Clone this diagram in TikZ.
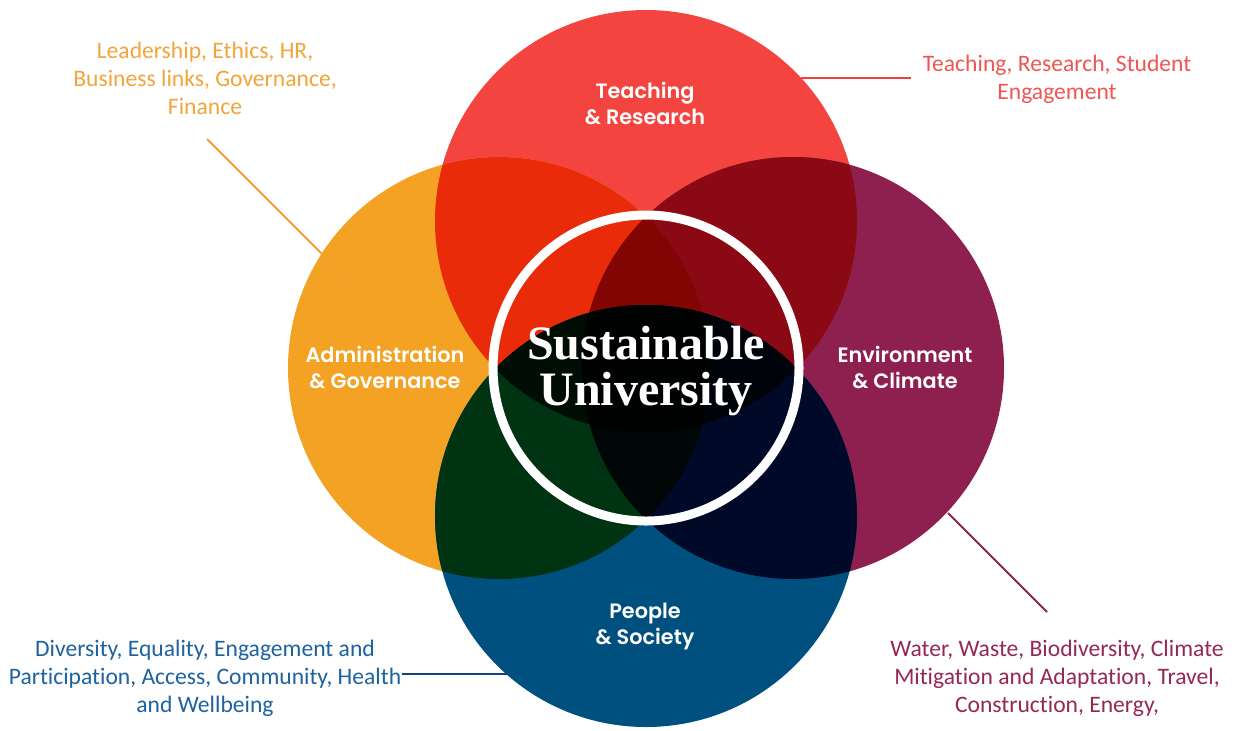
\documentclass[tikz,border=0pt]{standalone}
\usepackage{fontspec}
\setmainfont{Carlito}[Ligatures={NoCommon}]
\newfontfamily\popfont{Poppins}[BoldFont={Poppins SemiBold}]
\newfontfamily\titlefont{Liberation Serif}
\definecolor{cRed}{RGB}{244,68,63}
\definecolor{cOra}{RGB}{244,162,35}
\definecolor{cPur}{RGB}{142,32,80}
\definecolor{cBlu}{RGB}{0,80,127}
\definecolor{cRO}{RGB}{233,43,9}
\definecolor{cRP}{RGB}{138,9,20}
\definecolor{cRB}{RGB}{0,21,31}
\definecolor{cOP}{RGB}{136,20,11}
\definecolor{cOB}{RGB}{0,51,17}
\definecolor{cPB}{RGB}{0,10,40}
\definecolor{cROP}{RGB}{130,5,3}
\definecolor{cROB}{RGB}{0,13,4}
\definecolor{cRPB}{RGB}{0,3,10}
\definecolor{cOPB}{RGB}{0,6,5}
\definecolor{cROPB}{RGB}{0,2,1}
\definecolor{tOra}{RGB}{245,164,58}
\definecolor{tRed}{RGB}{241,85,83}
\definecolor{tBlu}{RGB}{30,98,160}
\definecolor{tPur}{RGB}{150,40,85}
\definecolor{lOra}{RGB}{243,160,50}
\definecolor{lRed}{RGB}{240,62,60}
\definecolor{lBlu}{RGB}{15,70,120}
\definecolor{lPur}{RGB}{145,35,80}
\def\circr{105.5pt}
\tikzset{
  lbl/.style={font=\fontsize{11.8}{14}\selectfont, align=center, inner sep=0pt},
  ttl/.style={font=\popfont\bfseries\fontsize{10.4}{13}\selectfont, text=white, align=center},
  conn/.style={line width=1pt},
  ring/.style={white, line width=4.5pt}
}
\begin{document}
\begin{tikzpicture}[x=0.5pt,y=-0.5pt]
\fill[white] (0,0) rectangle (1241,730);
\useasboundingbox (0,0) rectangle (1241,730);
\coordinate (cT) at (646,221);
\coordinate (cL) at (499,368);
\coordinate (cR) at (793,368);
\coordinate (cB) at (646,516);
% base circles
\fill[cRed] (cT) circle[radius=\circr];
\fill[cOra] (cL) circle[radius=\circr];
\fill[cPur] (cR) circle[radius=\circr];
\fill[cBlu] (cB) circle[radius=\circr];
% pairs
\begin{scope}\clip (cT) circle[radius=\circr]; \fill[cRO] (cL) circle[radius=\circr];\end{scope}
\begin{scope}\clip (cT) circle[radius=\circr]; \fill[cRP] (cR) circle[radius=\circr];\end{scope}
\begin{scope}\clip (cT) circle[radius=\circr]; \fill[cRB] (cB) circle[radius=\circr];\end{scope}
\begin{scope}\clip (cL) circle[radius=\circr]; \fill[cOP] (cR) circle[radius=\circr];\end{scope}
\begin{scope}\clip (cL) circle[radius=\circr]; \fill[cOB] (cB) circle[radius=\circr];\end{scope}
\begin{scope}\clip (cR) circle[radius=\circr]; \fill[cPB] (cB) circle[radius=\circr];\end{scope}
% triples
\begin{scope}\clip (cT) circle[radius=\circr]; \clip (cL) circle[radius=\circr]; \fill[cROP] (cR) circle[radius=\circr];\end{scope}
\begin{scope}\clip (cT) circle[radius=\circr]; \clip (cL) circle[radius=\circr]; \fill[cROB] (cB) circle[radius=\circr];\end{scope}
\begin{scope}\clip (cT) circle[radius=\circr]; \clip (cR) circle[radius=\circr]; \fill[cRPB] (cB) circle[radius=\circr];\end{scope}
\begin{scope}\clip (cL) circle[radius=\circr]; \clip (cR) circle[radius=\circr]; \fill[cOPB] (cB) circle[radius=\circr];\end{scope}
% all four
\begin{scope}\clip (cT) circle[radius=\circr]; \clip (cL) circle[radius=\circr]; \clip (cR) circle[radius=\circr]; \fill[cROPB] (cB) circle[radius=\circr];\end{scope}
% central ring
\draw[ring] (646,368) circle[radius=76.5pt];
\node[font=\titlefont\bfseries\fontsize{24}{23}\selectfont, text=white, align=center] (center) at (646,371) {Sustainable\\University};
% circle titles
\node[ttl] (tteach) at (645,103) {Teaching\\\& Research};
\node[ttl] (tadmin) at (385,367) {Administration\\\& Governance};
\node[ttl] (tenv) at (905,367) {Environment\\\& Climate};
\node[ttl] (tpeople) at (645,627) {People\\\& Society};
% outer labels
\node[lbl, text=tOra] (lora) at (205,78) {Leadership, Ethics, HR,\\Business links, Governance,\\Finance};
\node[lbl, text=tRed] (lred) at (1057,79) {Teaching, Research, Student\\Engagement};
\node[lbl, text=tBlu] (lblu) at (205,678) {Diversity, Equality, Engagement and\\Participation, Access, Community, Health\\and Wellbeing};
\node[lbl, text=tPur] (lpur) at (1057,678) {Water, Waste, Biodiversity, Climate\\Mitigation and Adaptation, Travel,\\Construction, Energy,};
% connectors
\coordinate (oraA) at (207,139);
\coordinate (oraB) at (355,287);
\coordinate (redA) at (801,78);
\coordinate (redB) at (911,78);
\coordinate (bluA) at (lblu.east |- 0,674);
\coordinate (bluB) at (508,674);
\coordinate (purA) at (948,513);
\coordinate (purB) at (1047,612);
\draw[conn, lOra] (oraA) -- (oraB);
\draw[conn, lRed] (redA) -- (redB);
\draw[conn, lBlu] (bluA) -- (bluB);
\draw[conn, lPur] (purA) -- (purB);
\end{tikzpicture}
\end{document}
